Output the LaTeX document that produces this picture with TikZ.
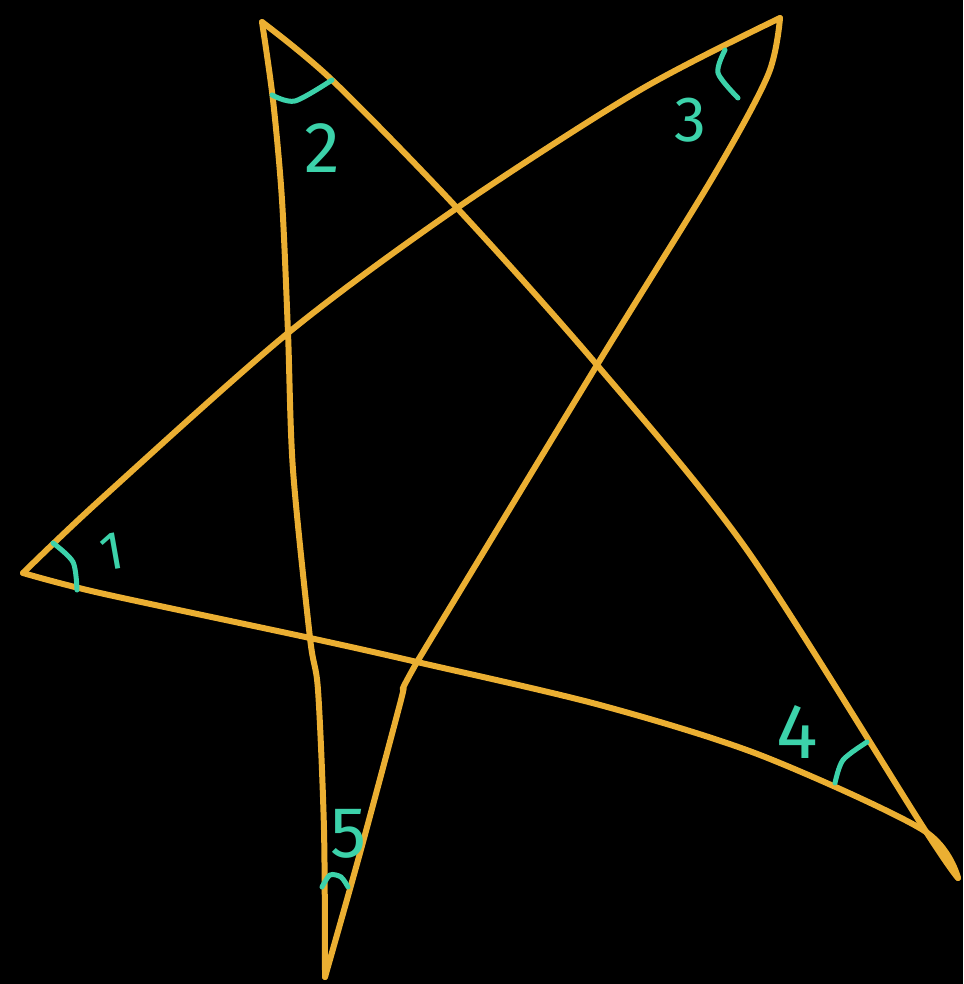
\documentclass[tikz,border=0pt]{standalone}
\usepackage{fontspec}
\setmainfont{Fira Sans}
\definecolor{starline}{HTML}{EBAF32}
\definecolor{marker}{HTML}{3CD2AA}
\begin{document}
\begin{tikzpicture}[x=1pt,y=-1pt,
  starstroke/.style={draw=starline,line width=6pt,line cap=round,line join=round},
  anglemark/.style={draw=marker,line width=5pt,line cap=round},
  numlabel/.style={text=marker,font=\fontsize{72}{72}\selectfont,inner sep=0pt}]
\fill[black] (0,0) rectangle (963,984);
\useasboundingbox (0,0) rectangle (963,984);
% vertices
\coordinate (v1) at (23,573);
\coordinate (v2) at (262,22);
\coordinate (v3) at (780,18);
\coordinate (v4) at (958,878);
\coordinate (v5) at (325,977);
% star strokes
\draw[starstroke] plot[smooth] coordinates {(v2) (273,100) (282,200) (288,333) (293,470) (310,638) (318,690) (324,830) (v5)};
\draw[starstroke] plot[smooth] coordinates {(v2) (332,80) (457,208) (597,365) (747,550) (923,827) (v4)};
\draw[starstroke] plot[smooth] coordinates {(v3) (640,90) (457,208) (288,333) (100,500) (v1)};
\draw[starstroke] plot[smooth] coordinates {(v3) (768,75) (713,177) (597,365) (417,662)};
\draw[starstroke] plot[smooth] coordinates {(417,662) (403,688) (401,700) (360,853) (v5)};
\draw[starstroke] plot[smooth] coordinates {(v1) (100,593) (310,638) (417,662) (600,705) (760,755) (923,830) (v4)};
% angle marks
\draw[anglemark] plot[smooth] coordinates {(272,95) (295,101) (332,80)};
\draw[anglemark] plot[smooth] coordinates {(725,50) (718,73) (738,98)};
\draw[anglemark] plot[smooth] coordinates {(53,543) (73,562) (77,590)};
\draw[anglemark] plot[smooth] coordinates {(835,783) (843,760) (867,742)};
\draw[anglemark] plot[smooth] coordinates {(322,887) (330,875) (341,877) (348,887)};
% labels
\node[numlabel,font=\fontsize{54}{54}\selectfont,rotate=10] (l1) at (112,552) {1};
\node[numlabel] (l2) at (322,148) {2};
\node[numlabel,font=\fontsize{64}{64}\selectfont] (l3) at (690,120) {3};
\node[numlabel,font=\fontsize{78}{78}\selectfont] (l4) at (797,732) {4};
\node[numlabel] (l5) at (349,834) {5};
\end{tikzpicture}
\end{document}
